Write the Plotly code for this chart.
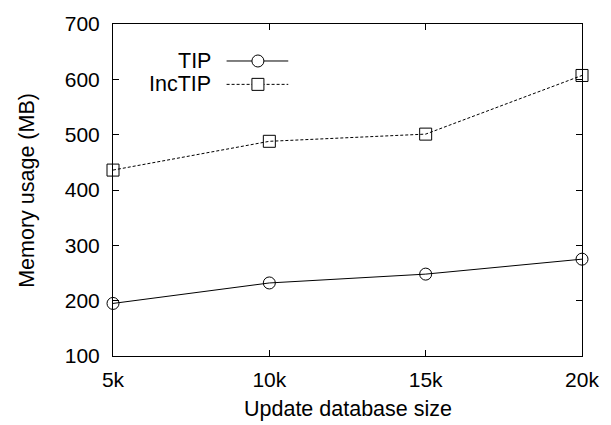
import plotly.graph_objects as go

sizes = [5000, 10000, 15000, 20000]
tick_labels = ["5k", "10k", "15k", "20k"]
tip = [195, 232, 248, 275]
inctip = [436, 488, 501, 607]
y_ticks = [100, 200, 300, 400, 500, 600, 700]

W, H = 611, 425
L, R, T, B = 113, 19, 15, 69
pw, ph = W - L - R, H - T - B

def px(x):
    return (x - L) / pw

def py(y):
    return (H - B - y) / ph

FONT = "Liberation Sans, Arial, Helvetica, sans-serif"

fig = go.Figure()
fig.add_trace(go.Scatter(
    x=sizes, y=tip, mode="lines+markers", name="TIP",
    line=dict(color="black", width=1),
    marker=dict(symbol="circle-open", size=12, color="black", line=dict(width=1)),
    cliponaxis=False, showlegend=False))
fig.add_trace(go.Scatter(
    x=sizes, y=inctip, mode="lines+markers", name="IncTIP",
    line=dict(color="black", width=1, dash="3px,2px"),
    marker=dict(symbol="square-open", size=12, color="black", line=dict(width=1)),
    cliponaxis=False, showlegend=False))

axis_common = dict(showline=True, linecolor="black", linewidth=1, mirror="ticks",
                   ticks="inside", ticklen=6, tickcolor="black", tickwidth=1,
                   showgrid=False, zeroline=False,
                   tickfont=dict(family=FONT, size=21, color="black"))

fig.update_xaxes(range=[5000, 20000], tickvals=sizes, ticktext=tick_labels,
                 ticklabelstandoff=5, **axis_common)
fig.update_yaxes(range=[100, 700], tickvals=y_ticks, ticklabelstandoff=8, **axis_common)

annotations = [
    dict(text="Memory usage (MB)", x=px(25), y=0.5, xref="paper", yref="paper",
         textangle=-90, showarrow=False, xanchor="center", yanchor="middle",
         font=dict(family=FONT, size=21.5, color="black")),
    dict(text="Update database size", x=0.5, y=py(410), xref="paper", yref="paper",
         showarrow=False, xanchor="center", yanchor="middle",
         font=dict(family=FONT, size=21.5, color="black")),
]
shapes = []
legend_items = [("TIP", 53, "solid", "circle"), ("IncTIP", 77, "3px,2px", "square")]
for name, yy, dash, sym in legend_items:
    annotations.append(dict(text=name, x=px(215), y=py(yy), xref="paper", yref="paper",
                            showarrow=False, xanchor="right", yanchor="middle",
                            font=dict(family=FONT, size=21.5, color="black")))
    shapes.append(dict(type="line", xref="paper", yref="paper",
                       x0=px(229), x1=px(292), y0=py(yy), y1=py(yy),
                       line=dict(color="black", width=1, dash=dash)))
    shapes.append(dict(type="circle" if sym == "circle" else "rect",
                       xref="paper", yref="paper",
                       xsizemode="pixel", ysizemode="pixel",
                       xanchor=px(261), yanchor=py(yy),
                       x0=-6, x1=6, y0=-6, y1=6,
                       line=dict(color="black", width=1), fillcolor="white"))

fig.update_layout(width=W, height=H, margin=dict(l=L, r=R, t=T, b=B),
                  paper_bgcolor="white", plot_bgcolor="white",
                  annotations=annotations, shapes=shapes, showlegend=False)

fig.write_html("out.html")
